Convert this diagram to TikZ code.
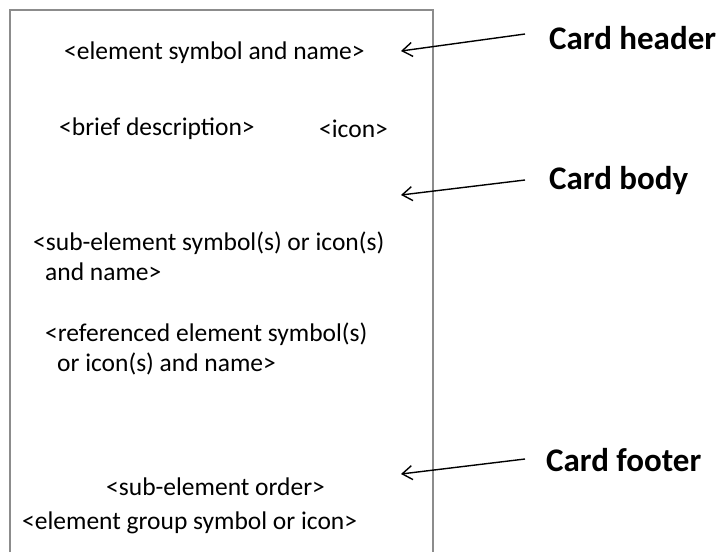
\documentclass[tikz,border=0pt]{standalone}
\usepackage{fontspec}
\setmainfont{Carlito}
\usetikzlibrary{calc, positioning}
\usetikzlibrary{arrows.meta}

\tikzset{
  cardtext/.style={anchor=west, inner sep=0pt, font=\fontsize{25.5}{30}\selectfont},
  partlabel/.style={anchor=west, inner sep=0pt, font=\fontsize{33}{38}\selectfont\bfseries},
  pointer/.style={-{Straight Barb[length=10pt, width=14pt]}, line width=1.4pt}
}

\begin{document}
\begin{tikzpicture}[x=1pt, y=-1pt]
\def\cardL{10}
\def\cardR{433}
\def\cardT{10}
\def\cardB{552}
\def\tipx{401}

\useasboundingbox (0,0) rectangle (718,552);

\coordinate (CBL) at (\cardL,\cardB);
\coordinate (CTL) at (\cardL,\cardT);
\coordinate (CTR) at (\cardR,\cardT);
\coordinate (CBR) at (\cardR,\cardB);

% the card, open at the bottom
\draw[line width=2.5pt, gray!90] (CBL) -- (CTL) -- (CTR) -- (CBR);

% card contents
\node[cardtext] (elname) at (64,53) {<element symbol and name>};
\node[cardtext] (brief) at (59,129) {<brief description>};
\node[cardtext] (icon) at (319,129) {<icon>};
\node[cardtext] (subel) at (33,243) {<sub-element symbol(s) or icon(s)};
\node[cardtext] (subname) at (45,272) {and name>};
\node[cardtext] (refel) at (45,334) {<referenced element symbol(s)};
\node[cardtext] (refname) at (57,364) {or icon(s) and name>};
\node[cardtext] (suborder) at (106,487) {<sub-element order>};
\node[cardtext] (group) at (22,523) {<element group symbol or icon>};

% part labels
\node[partlabel] (header) at (549,38) {Card header};
\node[partlabel] (body) at (549,181) {Card body};
\node[partlabel] (footer) at (546,460) {Card footer};

\coordinate (headtip) at (\tipx,51);
\coordinate (bodytip) at (\tipx,195);
\coordinate (foottip) at (\tipx,474);

\draw[pointer] ($(header.west)+(-24,-4)$) -- (headtip);
\draw[pointer] ($(body.west)+(-24,-1)$) -- (bodytip);
\draw[pointer] ($(footer.west)+(-21,-1)$) -- (foottip);
\end{tikzpicture}
\end{document}
